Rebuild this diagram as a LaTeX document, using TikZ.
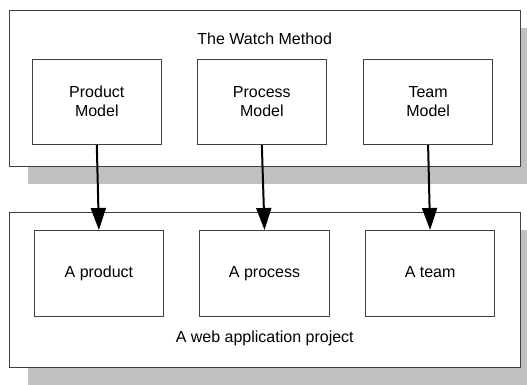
\documentclass[tikz,border=0pt]{standalone}
\usepackage{fontspec}
\setmainfont{Liberation Sans}
\usetikzlibrary{arrows.meta}
\definecolor{shadowgray}{HTML}{C0C0C0}
\definecolor{edgegray}{HTML}{404040}
\tikzset{
  outerbox/.style={draw=edgegray, line width=1pt, fill=white, minimum width=510.5pt, inner sep=0pt},
  innerbox/.style={draw=edgegray, line width=1pt, fill=white, minimum width=129pt, minimum height=85.5pt, inner sep=0pt, align=center, font=\fontsize{16}{19}\selectfont},
  leafbox/.style={innerbox, minimum width=129.5pt, minimum height=86pt, text height=11.5pt, text depth=3.4pt},
  lbl/.style={inner sep=0pt, font=\fontsize{16}{19}\selectfont},
  flow/.style={line width=2pt, -{Triangle[length=22pt,width=15pt]}, shorten >=-0.5pt}
}
\begin{document}
\begin{tikzpicture}[x=1pt,y=-1pt]
\useasboundingbox (0,0) rectangle (527,384);
% shadows
\begin{scope}
\clip (0,0) rectangle (527,384);
\fill[shadowgray] (27.5,28) rectangle (538,184);
\fill[shadowgray] (27.5,230) rectangle (538,385.5);
\end{scope}
% outer boxes
\node[outerbox, minimum height=156pt] (method) at (264.75,88) {};
\node[outerbox, minimum height=155.5pt] (project) at (264.75,289.75) {};
% titles
\node[lbl] (mtitle) at (264.75,38.5) {The Watch Method};
\node[lbl] (ptitle) at (264.75,338.5) {A web application project};
% top inner boxes
\node[innerbox] (prodm) at (96.8,101.75) {Product\\Model};
\node[innerbox] (procm) at (261.85,101.75) {Process\\Model};
\node[innerbox] (teamm) at (428.1,101.75) {Team\\Model};
% bottom inner boxes
\node[leafbox] (prod) at (98.9,273) {A product};
\node[leafbox] (proc) at (264.5,273) {A process};
\node[leafbox] (team) at (430.1,273) {A team};
% arrows
\draw[flow] (prodm.south) -- (prod.north);
\draw[flow] (procm.south) -- (proc.north);
\draw[flow] (teamm.south) -- (team.north);
\end{tikzpicture}
\end{document}
